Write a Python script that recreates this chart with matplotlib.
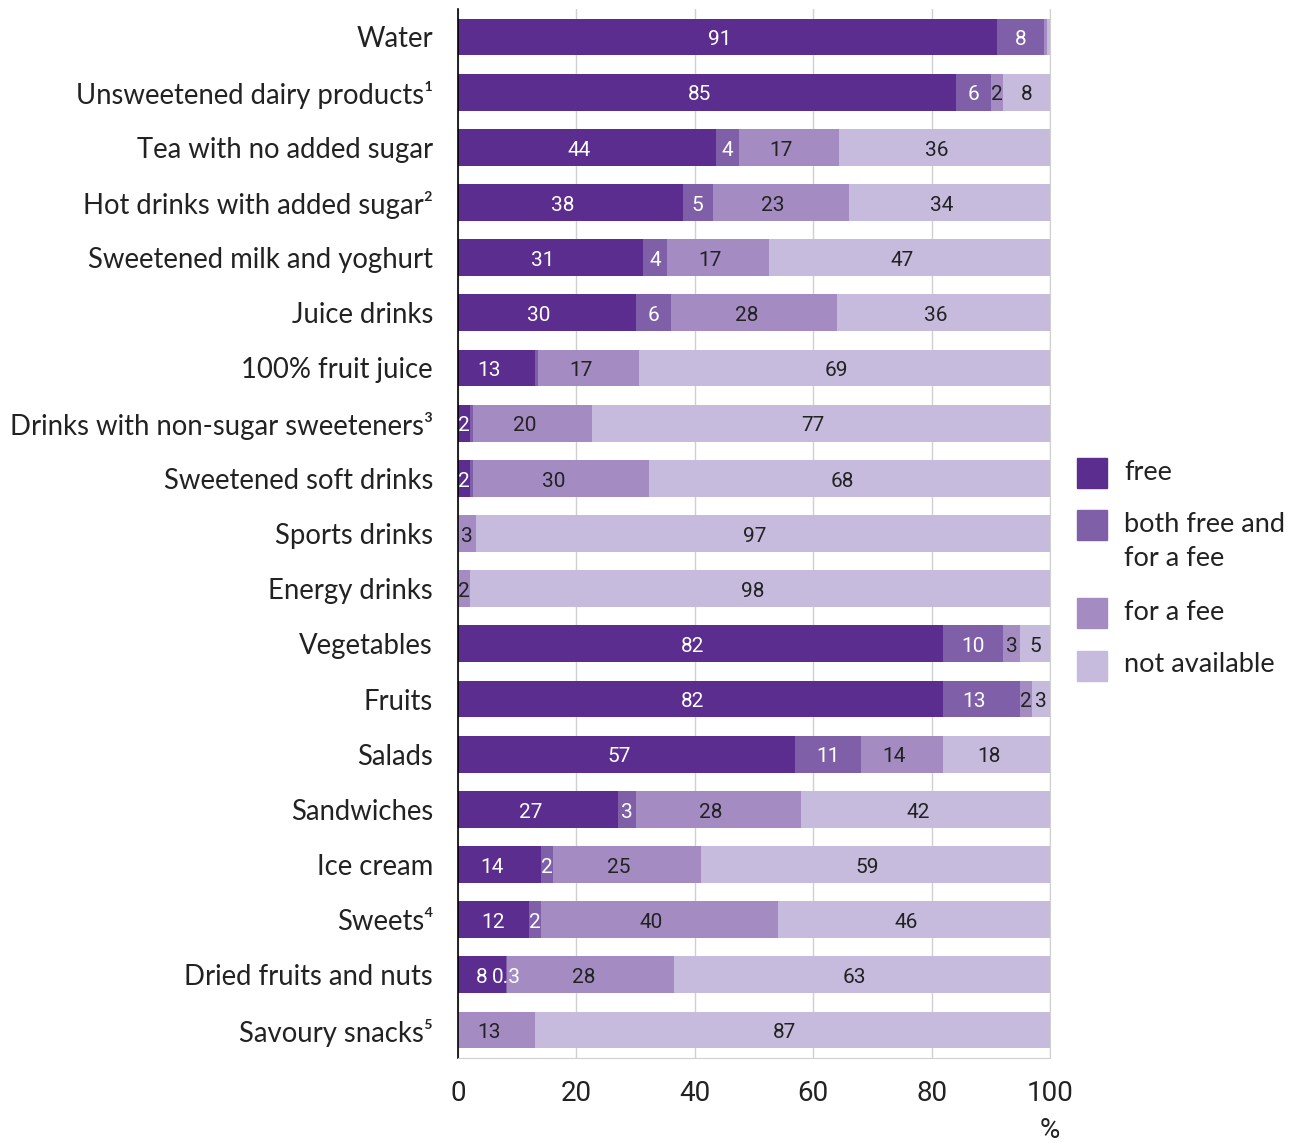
import matplotlib.pyplot as plt
from matplotlib.patches import Rectangle
from matplotlib.transforms import ScaledTranslation

# Share of schools offering each item (%)
categories = ['Water', 'Unsweetened dairy products\u00b9', 'Tea with no added sugar',
              'Hot drinks with added sugar\u00b2', 'Sweetened milk and yoghurt', 'Juice drinks',
              '100% fruit juice', 'Drinks with non-sugar sweeteners\u00b3', 'Sweetened soft drinks',
              'Sports drinks', 'Energy drinks', 'Vegetables', 'Fruits', 'Salads', 'Sandwiches',
              'Ice cream', 'Sweets\u2074', 'Dried fruits and nuts', 'Savoury snacks\u2075']
free = [91, 85, 44, 38, 31, 30, 13, 2, 2, 0, 0, 82, 82, 57, 27, 14, 12, 8, 0]
both = [8, 6, 4, 5, 4, 6, 0.4, 0.5, 0.5, 0, 0, 10, 13, 11, 3, 2, 2, 0.3, 0]
fee = [0.5, 2, 17, 23, 17, 28, 17, 20, 30, 3, 2, 3, 2, 14, 28, 25, 40, 28, 13]
not_avail = [0.5, 8, 36, 34, 47, 36, 69, 77, 68, 97, 98, 5, 3, 18, 42, 59, 46, 63, 87]

# printed labels (None = not printed)
free_lbl = ['91', '85', '44', '38', '31', '30', '13', '2', '2', None, None, '82', '82', '57', '27', '14', '12', '8', None]
both_lbl = ['8', '6', '4', '5', '4', '6', None, None, None, None, None, '10', '13', '11', '3', '2', '2', '0.3', None]
fee_lbl = [None, '2', '17', '23', '17', '28', '17', '20', '30', '3', '2', '3', '2', '14', '28', '25', '40', '28', '13']
na_lbl = [None, '8', '36', '34', '47', '36', '69', '77', '68', '97', '98', '5', '3', '18', '42', '59', '46', '63', '87']

legend_names = ['free', 'both free and\nfor a fee', 'for a fee', 'not available']
colors = ['#5b2d8e', '#7f60a8', '#a48cc3', '#c6bbdc']
txt_colors = ['white', 'white', '#222222', '#222222']

cat_font = ['Lato', 'DejaVu Sans']
num_font = ['Liberation Sans Narrow', 'Roboto', 'DejaVu Sans']

fig = plt.figure(figsize=(12.95, 11.43), dpi=100)
ax = fig.add_axes([458 / 1295, 85.4 / 1143, 592 / 1295, 1048.2 / 1143])

y = list(range(len(categories)))
# rounded values do not add to exactly 100: scale each row to its total
totals = [a + b + c + d for a, b, c, d in zip(free, both, fee, not_avail)]
left = [0] * len(categories)
for k, (vals, lbls) in enumerate([(free, free_lbl), (both, both_lbl), (fee, fee_lbl), (not_avail, na_lbl)]):
    widths = [v / t * 100 for v, t in zip(vals, totals)]
    ax.barh(y, widths, left=left, height=0.67, color=colors[k], edgecolor='none', zorder=2)
    for i in range(len(categories)):
        if lbls[i] is not None:
            # labels in wide segments sit a little left of centre, as in the original
            xc = left[i] + widths[i] / 2 - (1.3 if widths[i] > 12 else 0)
            ax.text(xc, i + 0.05, lbls[i], ha='center', va='center',
                    fontsize=15, color=txt_colors[k], family=num_font, zorder=3)
    left = [l + w for l, w in zip(left, widths)]

ax.set_xlim(0, 100)
ax.set_ylim(len(categories) - 0.5, -0.5)
ax.set_yticks(y)
ax.set_yticklabels(categories, fontsize=19.8, family=cat_font, color='#222222')
lift = ScaledTranslation(0, 4 / 100, fig.dpi_scale_trans)
for t in ax.get_yticklabels():
    t.set_transform(t.get_transform() + lift)
ax.set_xticks([0, 20, 40, 60, 80, 100])
ax.set_xticklabels(['0', '20', '40', '60', '80', '100'], fontsize=20, family=num_font, color='#222222')
ax.tick_params(axis='both', length=0)
ax.tick_params(axis='y', pad=18)
ax.tick_params(axis='x', pad=16)
ax.grid(axis='x', color='#d0d0d0', lw=1, zorder=0)
ax.spines['top'].set_visible(False)
ax.spines['right'].set_color('#d0d0d0')
ax.spines['bottom'].set_color('#d0d0d0')
ax.spines['left'].set_color('black')
ax.spines['left'].set_linewidth(1.2)
fig.text(1050 / 1295, 1 - 1130 / 1143, '%', ha='center', va='center', fontsize=20,
         family=num_font, color='#222222')

# legend drawn by hand
sq_tops = [458, 510, 598, 651]
txt_y = [[472], [524, 558], [613], [665]]
for k in range(4):
    fig.add_artist(Rectangle((1077 / 1295, 1 - (sq_tops[k] + 30) / 1143), 30 / 1295, 30 / 1143,
                             transform=fig.transFigure, color=colors[k]))
    for line, ty in zip(legend_names[k].split('\n'), txt_y[k]):
        fig.text(1124 / 1295, 1 - ty / 1143, line, ha='left', va='center', fontsize=19.5,
                 family=cat_font, color='#222222')

fig.savefig('out.png', dpi=100)
